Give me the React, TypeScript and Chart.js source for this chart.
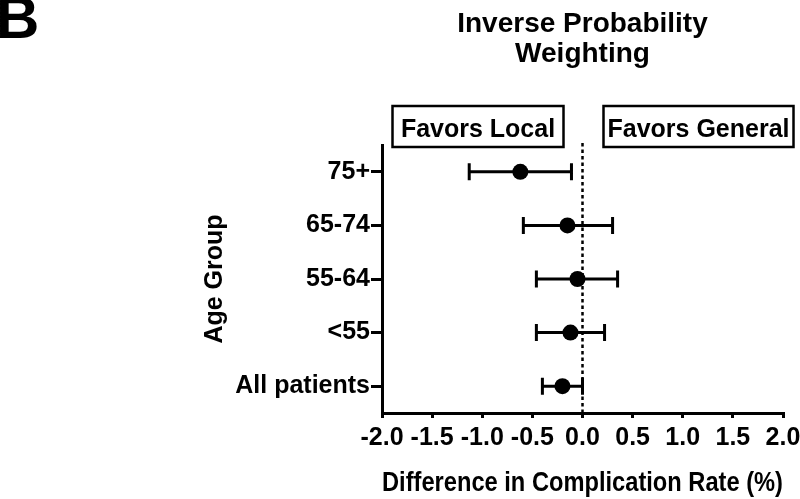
import React, { useEffect, useRef } from 'react';
import { Chart, registerables } from 'chart.js';

Chart.register(...registerables);

const categories = ['75+', '65-74', '55-64', '<55', 'All patients'];
const estimates = [-0.62, -0.15, -0.05, -0.12, -0.2];
const lower = [-1.13, -0.59, -0.46, -0.46, -0.4];
const upper = [-0.11, 0.3, 0.35, 0.22, 0.0];

const titleLines = ['Inverse Probability', 'Weighting'];
const panelLetter = 'B';
const favorsLeft = 'Favors Local';
const favorsRight = 'Favors General';
const xTitle = 'Difference in Complication Rate (%)';
const yTitle = 'Age Group';

const FONT = '"Liberation Sans", Arial, Helvetica, sans-serif';

export default function App() {
  const ref = useRef<HTMLCanvasElement>(null);

  useEffect(() => {
    const canvas = ref.current;
    if (!canvas) return;

    const extras = {
      id: 'forestExtras',
      beforeDatasetsDraw(chart: any) {
        const { ctx, chartArea, scales } = chart;
        const x = scales.x;
        const y = scales.y;
        ctx.save();
        const zx = x.getPixelForValue(0);
        ctx.strokeStyle = '#000';
        ctx.lineWidth = 2.5;
        ctx.setLineDash([3.5, 3]);
        ctx.beginPath();
        ctx.moveTo(zx, chartArea.top - 2);
        ctx.lineTo(zx, chartArea.bottom);
        ctx.stroke();
        ctx.setLineDash([]);
        ctx.lineWidth = 3;
        categories.forEach((c, i) => {
          const py = y.getPixelForValue(i);
          const x1 = x.getPixelForValue(lower[i]);
          const x2 = x.getPixelForValue(upper[i]);
          ctx.beginPath();
          ctx.moveTo(x1, py);
          ctx.lineTo(x2, py);
          ctx.moveTo(x1, py - 8.5);
          ctx.lineTo(x1, py + 8.5);
          ctx.moveTo(x2, py - 8.5);
          ctx.lineTo(x2, py + 8.5);
          ctx.stroke();
        });
        ctx.restore();
      },
      afterDraw(chart: any) {
        const { ctx, chartArea, scales } = chart;
        const x = scales.x;
        const zx = x.getPixelForValue(0);
        const cx = (chartArea.left + chartArea.right) / 2;
        ctx.save();
        ctx.fillStyle = '#000';
        ctx.strokeStyle = '#000';
        // panel letter
        ctx.font = `bold 60px ${FONT}`;
        ctx.textAlign = 'left';
        ctx.textBaseline = 'alphabetic';
        ctx.fillText(panelLetter, -4, 38);
        // title
        ctx.font = `bold 28px ${FONT}`;
        ctx.textAlign = 'center';
        titleLines.forEach((t, i) => ctx.fillText(t, cx, 32 + i * 30));
        // favors boxes
        ctx.font = `bold 25px ${FONT}`;
        ctx.lineWidth = 2.5;
        const top = chartArea.top - 39;
        const h = 41;
        const lx = zx - 190;
        const lw = 171;
        const rx = zx + 21;
        const rw = 190;
        ctx.strokeRect(lx, top, lw, h);
        ctx.strokeRect(rx, top, rw, h);
        ctx.fillText(favorsLeft, lx + lw / 2, top + 31);
        ctx.fillText(favorsRight, rx + rw / 2, top + 31);
        ctx.restore();
      },
    };

    const chart = new Chart(canvas, {
      type: 'scatter',
      data: {
        labels: categories,
        datasets: [
          {
            data: estimates.map((v, i) => ({ x: v, y: categories[i] })) as any,
            backgroundColor: '#000',
            borderColor: '#000',
            pointRadius: 8,
            pointHoverRadius: 8,
            borderWidth: 0,
          },
        ],
      },
      options: {
        responsive: false,
        animation: false,
        events: [],
        layout: { padding: { left: 200, right: 17, top: 145, bottom: 0 } },
        plugins: {
          legend: { display: false },
          tooltip: { enabled: false },
          title: { display: false },
        },
        scales: {
          x: {
            type: 'linear',
            min: -2,
            max: 2,
            afterFit: (s: any) => {
              s.height = 86;
              s.paddingLeft = 0;
              s.paddingRight = 0;
            },
            border: { display: true, color: '#000', width: 3 },
            grid: {
              drawOnChartArea: false,
              drawTicks: true,
              tickLength: 5,
              color: '#000',
              lineWidth: 3,
            },
            ticks: {
              stepSize: 0.5,
              color: '#000',
              padding: 5,
              maxRotation: 0,
              autoSkip: false,
              font: { family: FONT, size: 25, weight: 'bold' },
              callback: (v: any) => Number(v).toFixed(1),
            },
            title: {
              display: true,
              text: xTitle,
              color: '#000',
              padding: { top: 0, bottom: 0 },
              font: { family: FONT, size: 27, weight: 'bold', lineHeight: 1.15 },
            },
          },
          y: {
            type: 'category',
            labels: categories,
            offset: true,
            afterFit: (s: any) => {
              s.width = 182;
              s.paddingTop = 0;
              s.paddingBottom = 0;
            },
            border: { display: true, color: '#000', width: 3 },
            grid: {
              drawOnChartArea: false,
              drawTicks: true,
              tickLength: 11,
              color: '#000',
              lineWidth: 3,
              offset: false,
            },
            ticks: {
              color: '#000',
              padding: 1,
              autoSkip: false,
              font: { family: FONT, size: 25, weight: 'bold' },
            },
            title: {
              display: true,
              text: yTitle,
              color: '#000',
              padding: { top: 0, bottom: 0 },
              font: { family: FONT, size: 25, weight: 'bold', lineHeight: 1.2 },
            },
          },
        },
      } as any,
      plugins: [extras],
    });

    return () => chart.destroy();
  }, []);

  return (
    <canvas
      ref={ref}
      width={800}
      height={499}
      style={{ position: 'fixed', left: 0, top: 0, width: 800, height: 499, background: '#fff' }}
    />
  );
}
